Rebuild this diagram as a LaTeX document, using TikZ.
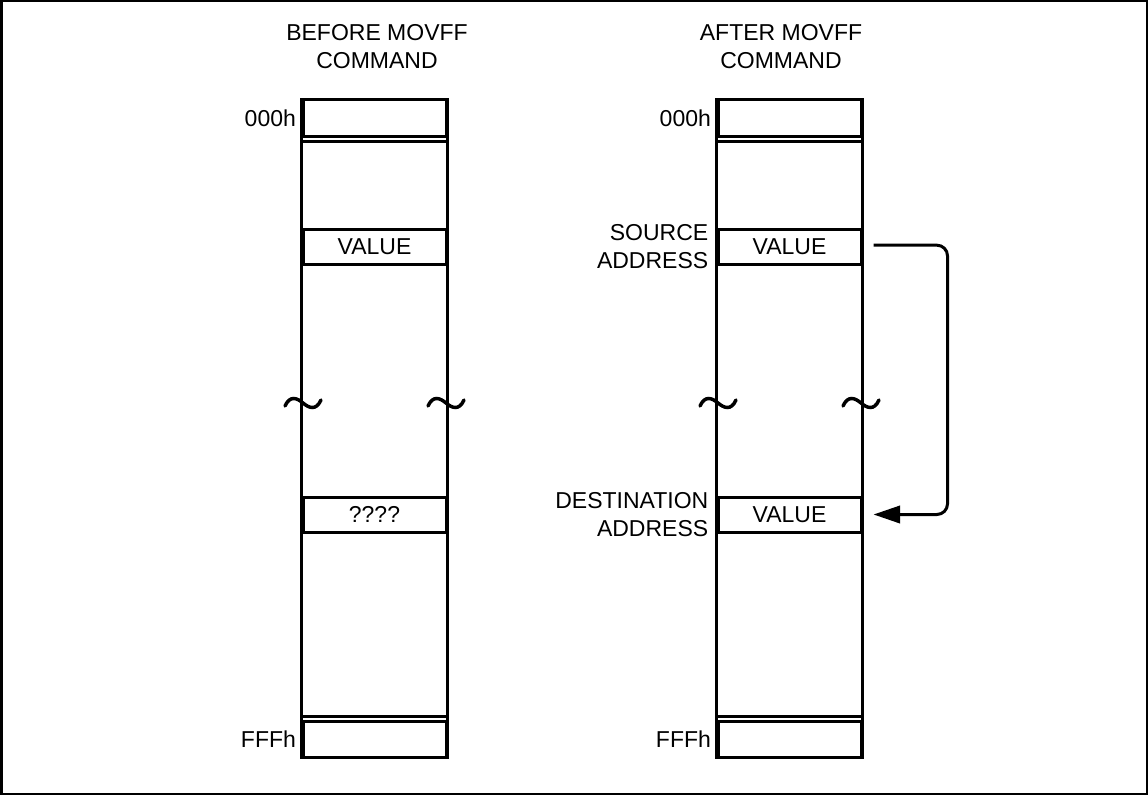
\documentclass[tikz,border=0pt]{standalone}
\usepackage{fontspec}
\setmainfont{Liberation Sans}
\usetikzlibrary{arrows.meta}
\newcommand\lblfont{\fontsize{17.25}{21}\selectfont}
\begin{document}
\begin{tikzpicture}[x=0.75pt,y=-0.75pt,
  frame/.style={line width=1.5pt},
  col/.style={line width=2.25pt},
  cell/.style={draw, line width=2.25pt, minimum width=107.25pt, minimum height=26.25pt, inner sep=0pt, font=\lblfont},
  lbl/.style={font=\lblfont, align=right, anchor=east, inner sep=0pt},
  head/.style={font=\lblfont, align=center, inner sep=0pt},
  flow/.style={line width=2.25pt, rounded corners=8pt, -{Triangle[length=20pt,width=13pt]}},
  brk/.pic={\draw[line width=2.6pt, line cap=round] (-18,3) .. controls (-13,-8) and (-6,-5) .. (0,0) .. controls (6,5) and (13,8) .. (18,-3);}
]
\useasboundingbox (0,0) rectangle (1148,795);
\draw[frame] (1.5,1.5) rectangle (1146.5,793.5);

% headings
\node[head] (hL) at (377,47) {BEFORE MOVFF\\COMMAND};
\node[head] (hR) at (781,47) {AFTER MOVFF\\COMMAND};

% left column cells
\node[cell, minimum height=27.75pt] (tL) at (374.5,118.5) {};
\node[cell] (vL) at (374.5,246.5) {VALUE};
\node[cell] (qL) at (374.5,514.5) {????};
\node[cell, minimum height=27pt] (fL) at (374.5,739) {};
% right column cells
\node[cell, minimum height=27.75pt] (tR) at (789.5,118.5) {};
\node[cell] (vR) at (789.5,246.5) {VALUE};
\node[cell] (dR) at (789.5,514.5) {VALUE};
\node[cell, minimum height=27pt] (fR) at (789.5,739) {};

% column outlines
\foreach \t/\f in {tL/fL, tR/fR}{
  \draw[col] (\t.north west) -- (\f.south west);
  \draw[col] (\t.north east) -- (\f.south east);
  \draw[col] ([yshift=-2.6pt]\t.south west) -- ([yshift=-2.6pt]\t.south east);
  \draw[col] ([yshift=2.6pt]\f.north west) -- ([yshift=2.6pt]\f.north east);
}

% break marks
\pic at (303,403) {brk};
\pic at (446,403) {brk};
\pic at (718,403) {brk};
\pic at (861,403) {brk};

% address labels
\node[lbl] (aL0) at ([xshift=-4pt]tL.west) {000h};
\node[lbl] (aLF) at ([xshift=-4pt]fL.west) {FFFh};
\node[lbl] (aR0) at ([xshift=-4pt]tR.west) {000h};
\node[lbl] (aRF) at ([xshift=-4pt]fR.west) {FFFh};
\node[lbl] (src) at ([xshift=-6pt]vR.west) {SOURCE\\ADDRESS};
\node[lbl] (dst) at ([xshift=-6pt]dR.west) {DESTINATION\\ADDRESS};

% move arrow
\draw[flow] ([xshift=8.25pt,yshift=1pt]vR.east) -- ++(55.5pt,0) |- ([xshift=8.25pt]dR.east);
\end{tikzpicture}
\end{document}
